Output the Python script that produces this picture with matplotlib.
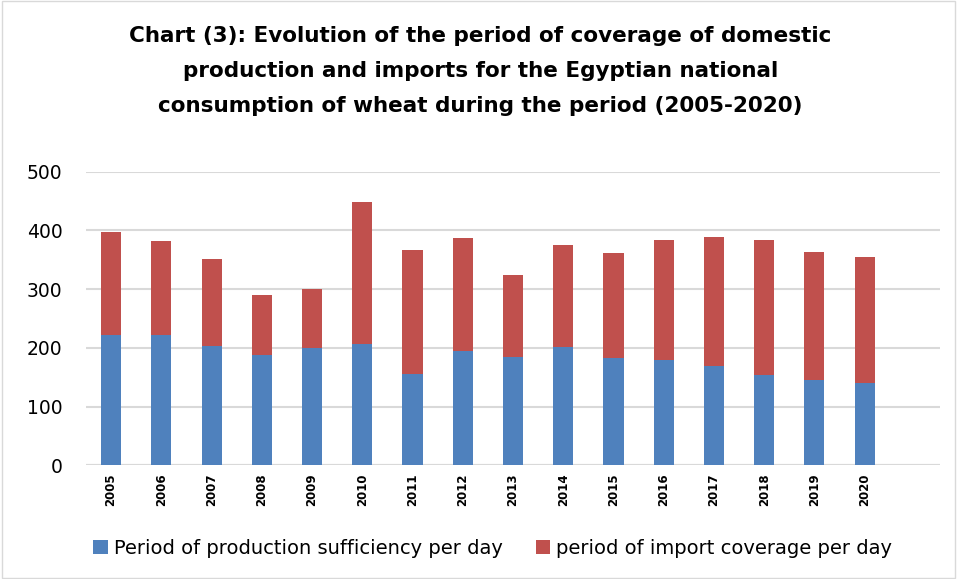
import matplotlib
matplotlib.use("Agg")
import matplotlib.pyplot as plt
import numpy as np

years = ["2005", "2006", "2007", "2008", "2009", "2010", "2011", "2012",
         "2013", "2014", "2015", "2016", "2017", "2018", "2019", "2020"]
production = [222, 222, 204, 187, 199, 207, 155, 194,
              185, 201, 183, 180, 169, 154, 145, 141]
total = [397, 382, 352, 290, 300, 449, 367, 387,
         324, 376, 361, 383, 389, 384, 364, 355]
imports = [t - p for t, p in zip(total, production)]

blue = "#4F81BD"
red = "#C0504D"

fig = plt.figure(figsize=(9.57, 5.79), dpi=100)
ax = fig.add_axes([86 / 957, 1 - 465.3 / 579, 854 / 957, (465.3 - 171.7) / 579])

x = np.arange(len(years))
ax.bar(x, production, width=0.4, color=blue, label="Period of production sufficiency per day", zorder=3)
ax.bar(x, imports, width=0.4, bottom=production, color=red, label="period of import coverage per day", zorder=3)

ax.set_xlim(-0.5, 16.5)
ax.set_ylim(0, 500)
ax.set_yticks([0, 100, 200, 300, 400, 500])
ax.yaxis.grid(True, color="#D9D9D9", linewidth=1.5, zorder=0)
for s in ax.spines.values():
    s.set_visible(False)
ax.axhline(0, color="#D9D9D9", linewidth=1.5, zorder=1)
ax.tick_params(axis="y", length=0, labelsize=13.5, pad=17)
ax.set_xticks(x)
ax.set_xticklabels(years, rotation=90, fontsize=8.5, fontweight="bold")
ax.tick_params(axis="x", length=0, pad=6)

fig.text(0.502, 0.955, "Chart (3): Evolution of the period of coverage of domestic\n"
         "production and imports for the Egyptian national\n"
         "consumption of wheat during the period (2005-2020)",
         ha="center", va="top", fontsize=15.5, fontweight="bold", linespacing=1.94)

fig.legend(loc="center", bbox_to_anchor=(0.515, 1 - 548 / 579), ncol=2, frameon=False,
           fontsize=14, handlelength=0.75, handleheight=0.75, handletextpad=0.3, columnspacing=1.7)

fig.patches.append(plt.Rectangle((0.002, 0.002), 0.996, 0.996, transform=fig.transFigure,
                                 fill=False, edgecolor="#D9D9D9", linewidth=1))

fig.savefig("out.png", dpi=100)
